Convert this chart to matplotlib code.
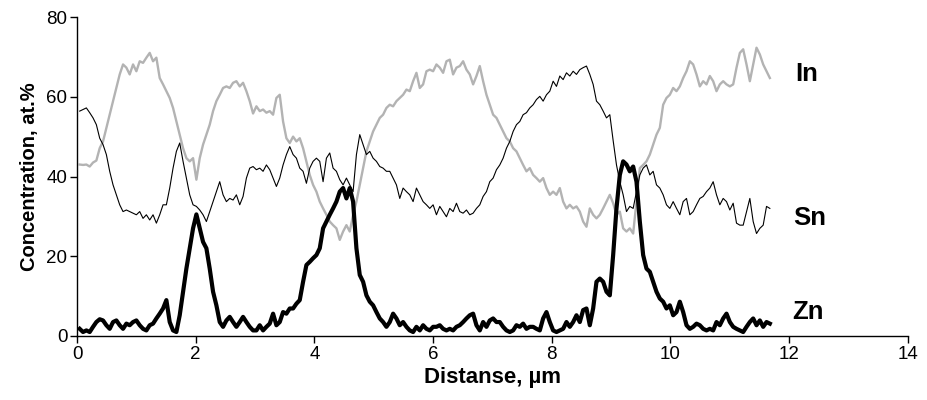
#!/usr/bin/env python3
# -*- coding: utf-8 -*-
"""
Line-scan concentration profile (In / Sn / Zn) along the distance, at.%.
"""

import numpy as np
import matplotlib
matplotlib.use("Agg")
import matplotlib.pyplot as plt

plt.rcParams['font.family'] = ['Liberation Sans', 'DejaVu Sans']

# sampling of the line scan
x_start = 0.045   # um
x_step = 0.0562   # um between points

# In, at.%
conc_in = [
    43.0, 42.9, 43.0, 42.5, 43.5, 44.0, 47.1, 48.8, 52.2, 55.5,
    58.9, 62.2, 65.6, 68.1, 67.3, 65.6, 68.1, 66.4, 68.9, 68.5,
    69.8, 71.0, 68.9, 69.8, 64.7, 63.1, 61.4, 59.7, 57.2, 53.8,
    50.5, 47.1, 44.6, 43.8, 44.6, 39.2, 44.6, 48.0, 50.5, 53.0,
    56.4, 58.9, 60.5, 62.2, 62.6, 62.2, 63.5, 63.9, 62.6, 63.5,
    61.4, 58.9, 55.8,
    57.6, 56.4, 56.8, 56.0, 56.4, 55.5, 59.7, 60.5, 53.8, 49.6,
    48.4, 50.0, 48.8, 49.6, 47.1, 43.8, 40.4, 37.9, 36.2, 33.7,
    32.0, 30.4, 28.7, 27.8, 27.0, 24.1, 26.2, 27.8, 26.2, 30.4,
    33.7, 37.9, 42.1, 46.3, 48.8, 51.3, 53.0, 54.7, 55.5, 57.2,
    58.0, 57.6, 58.9, 59.7, 60.5, 61.8, 61.4, 63.9, 66.0, 62.2,
    63.1, 66.4, 66.8, 66.4,
    68.1, 67.3, 66.0, 68.9, 69.3, 65.6, 67.3, 67.7, 68.9, 66.8,
    65.6, 63.1, 65.2, 67.7, 63.9, 60.5, 58.0, 55.5, 54.7, 53.0,
    51.3, 49.6, 48.8, 47.1, 46.3, 44.6, 42.9, 41.3, 42.1, 40.4,
    39.6, 38.7, 39.6, 37.1, 35.4, 36.2, 35.4, 37.1, 33.7, 32.0,
    32.9, 32.0, 32.5, 31.2, 28.7, 27.4, 32.0, 30.4, 29.5, 30.4,
    32.0, 33.7, 35.4, 33.3,
    30.4, 31.2, 27.0, 26.2, 27.0, 25.7, 33.7, 42.1, 42.9, 43.8,
    45.5, 48.0, 50.5, 52.2, 58.0, 59.7, 60.5, 62.2, 61.4, 62.6,
    64.7, 66.4, 68.9, 68.1, 65.6, 62.6, 63.9, 63.1, 65.2, 63.9,
    61.4, 63.1, 63.9, 63.1, 62.6, 63.1, 67.3, 71.0, 71.9, 68.1,
    63.9, 68.1, 72.3, 70.6, 68.1, 66.4, 64.7,
]

# Sn, at.%
conc_sn = [
    56.4, 56.8, 57.2, 56.0, 54.7, 53.0, 49.6, 48.0, 45.5, 41.3,
    37.9, 35.4, 32.9, 31.2, 31.6, 31.2, 30.8, 30.4, 31.2, 29.5,
    30.4, 29.1, 30.4, 28.3, 30.4, 32.9, 32.9, 37.1, 42.1, 46.3,
    48.4, 43.8, 39.6, 35.4, 32.9, 32.5, 31.6, 30.4, 28.7, 31.2,
    33.7, 36.2, 38.7, 35.4, 33.7, 34.5, 34.1, 35.4, 32.9, 35.0,
    39.6, 42.1, 42.5,
    41.7, 42.1, 41.3, 42.9, 41.7, 39.6, 37.5, 39.6, 42.9, 45.5,
    47.5, 45.5, 44.6, 42.1, 41.3, 38.3, 42.1, 43.8, 44.6, 43.8,
    38.7, 44.6, 45.9, 42.1, 41.3, 39.2, 37.9, 39.6, 37.9, 36.2,
    45.5, 50.5, 48.0, 45.5, 46.3, 44.6, 43.8, 42.5, 42.1, 41.3,
    41.3, 39.6, 37.9, 34.5, 37.1, 36.2, 35.4, 33.7, 37.1, 35.4,
    33.7, 32.9, 32.0, 32.9,
    30.4, 32.5, 31.2, 29.9, 32.0, 31.2, 33.3, 31.2, 30.8, 31.6,
    30.4, 30.8, 32.0, 32.9, 35.0, 36.2, 38.7, 39.6, 41.7, 42.9,
    44.6, 47.1, 48.8, 51.3, 53.0, 53.8, 55.5, 56.0, 57.2, 58.0,
    59.3, 60.1, 58.9, 60.5, 61.4, 63.9, 62.6, 65.2, 64.3, 66.0,
    65.2, 66.4, 65.6, 66.8, 67.3, 67.7, 65.6, 63.1, 58.9, 58.0,
    56.4, 54.7, 55.5, 49.0,
    42.9, 38.7, 35.4, 31.2, 32.5, 32.0, 36.2, 40.4, 42.1, 42.9,
    40.4, 41.3, 37.9, 37.1, 35.4, 32.9, 32.0, 33.7, 32.0, 30.4,
    33.7, 34.5, 30.4, 31.2, 32.9, 34.5, 35.0, 36.2, 37.1, 38.7,
    35.4, 32.9, 34.5, 33.7, 31.6, 33.3, 28.3, 27.8, 27.8, 31.2,
    34.5, 28.7, 25.7, 27.0, 27.8, 32.5, 32.0,
]

# Zn, at.%
conc_zn = [
    1.8, 1.0, 1.4, 1.0, 2.3, 3.5, 4.2, 3.9, 2.7, 1.8,
    3.5, 3.9, 2.7, 1.8, 3.1, 2.7, 3.5, 3.9, 2.7, 1.8,
    1.4, 2.7, 3.1, 4.4, 5.6, 6.9, 9.0, 3.5, 1.4, 1.0,
    5.2, 11.1, 16.9, 22.0, 27.0, 30.5, 27.0, 23.6, 22.0, 16.9,
    11.1, 7.7, 3.5, 2.3, 3.9, 4.8, 3.5, 2.3, 3.5, 4.8,
    3.5, 2.3, 1.4,
    1.4, 2.7, 1.4, 2.3, 3.1, 5.6, 2.7, 3.5, 6.0, 5.6,
    6.9, 6.9, 8.1, 9.0, 13.6, 17.8, 18.6, 19.5, 20.3, 22.0,
    27.0, 28.7, 30.4, 32.0, 33.7, 36.2, 37.1, 34.5, 37.1, 33.7,
    22.0, 15.3, 13.6, 10.2, 8.6, 7.7, 6.0, 4.4, 3.5, 2.3,
    3.5, 5.6, 4.4, 2.7, 3.5, 2.3, 1.4, 1.0, 2.3, 1.4,
    2.7, 1.8, 1.4, 2.3,
    2.3, 2.7, 1.8, 1.4, 1.8, 1.4, 2.3, 2.7, 3.5, 4.4,
    5.2, 5.6, 2.7, 1.4, 3.5, 2.3, 3.9, 4.4, 3.5, 3.5,
    2.3, 1.4, 1.0, 1.4, 2.7, 2.3, 3.1, 1.8, 2.3, 2.3,
    1.8, 1.4, 4.4, 6.0, 3.5, 1.4, 1.0, 1.4, 1.8, 3.5,
    2.3, 3.5, 5.2, 3.5, 6.5, 6.9, 2.7, 6.9, 13.6, 14.4,
    13.6, 11.1, 10.2, 20.3,
    32.0, 40.4, 43.8, 43.0, 41.3, 42.5, 38.7, 28.7, 20.3, 16.9,
    16.1, 13.6, 11.1, 9.4, 8.6, 6.9, 7.7, 5.2, 6.0, 8.6,
    6.0, 2.7, 1.8, 2.3, 3.1, 2.7, 1.8, 1.4, 1.8, 1.4,
    3.5, 2.7, 4.4, 5.6, 3.5, 2.3, 1.8, 1.4, 1.0, 2.3,
    3.5, 4.4, 2.7, 3.9, 2.3, 3.5, 3.1,
]

element_names = ['In', 'Sn', 'Zn']
label_x = [12.11, 12.08, 12.06]
label_y = [65.6, 29.6, 6.0]

x_ticks = [0, 2, 4, 6, 8, 10, 12, 14]
y_ticks = [0, 20, 40, 60, 80]


def distances(series):
    return x_start + np.arange(len(series)) * x_step


def main():
    fig = plt.figure(figsize=(9.28, 4.0), dpi=100)
    ax = fig.add_axes([0.083, 0.16, 0.895, 0.7975])

    # In - light grey, Sn - thin black, Zn - thick black
    ax.plot(distances(conc_in), conc_in, color='#b3b3b3', linewidth=1.7)
    ax.plot(distances(conc_sn), conc_sn, color='black', linewidth=0.8)
    ax.plot(distances(conc_zn), conc_zn, color='black', linewidth=3.0,
            solid_joinstyle='round')

    for name, lx, ly in zip(element_names, label_x, label_y):
        ax.text(lx, ly, name, fontsize=18.5, fontweight='bold',
                ha='left', va='center')

    ax.set_xlim(0, 14)
    ax.set_ylim(0, 80)
    ax.set_xticks(x_ticks)
    ax.set_yticks(y_ticks)

    for side in ['top', 'right']:
        ax.spines[side].set_visible(False)
    for side in ['left', 'bottom']:
        ax.spines[side].set_linewidth(1.0)

    ax.tick_params(direction='out', length=5, width=1.0, labelsize=13.5,
                   pad=2)

    ax.set_xlabel('Distanse, µm', fontsize=16, fontweight='bold', labelpad=3)
    ax.set_ylabel('Concentration, at.%', fontsize=14.5, fontweight='bold',
                  labelpad=5)

    fig.savefig('out.png', dpi=100)


if __name__ == '__main__':
    main()
